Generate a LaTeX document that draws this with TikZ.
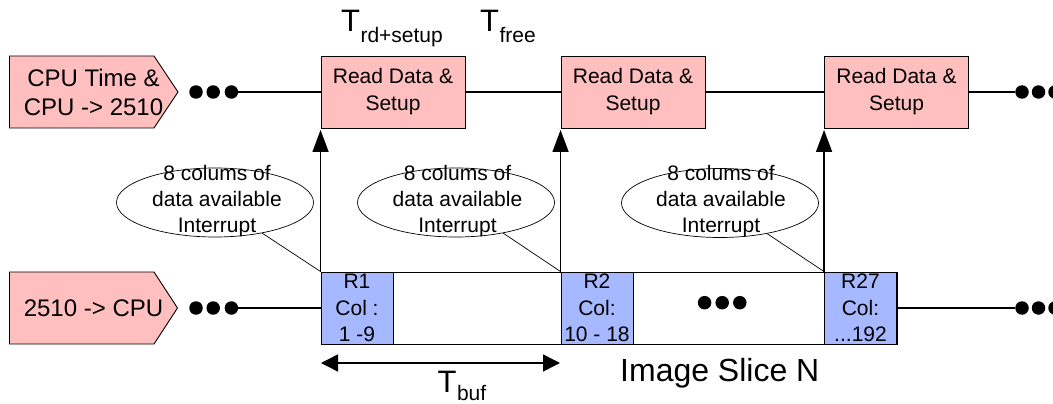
\documentclass[tikz,border=0pt]{standalone}
\usepackage{fontspec}
\setmainfont{Liberation Sans}
\usetikzlibrary{arrows.meta,shapes.geometric}
\definecolor{pinkfill}{RGB}{255,191,191}
\definecolor{bluefill}{RGB}{166,184,255}
\begin{document}
\begin{tikzpicture}[x=1pt,y=-1pt,
  rbox/.style={draw, fill=pinkfill, minimum width=144pt, minimum height=72pt, inner sep=0pt, align=center, font=\fontsize{21}{27}\selectfont, line width=0.9pt},
  colbox/.style={draw, fill=bluefill, minimum width=72pt, minimum height=72pt, inner sep=0pt, align=center, font=\fontsize{21}{26.5}\selectfont, line width=0.9pt},
  slicebox/.style={draw, minimum width=576pt, minimum height=72pt, inner sep=0pt, line width=0.9pt},
  pent/.style={draw, fill=pinkfill, line width=0.9pt},
  penttext/.style={align=center, font=\fontsize{24}{29}\selectfont, inner sep=0pt},
  dot/.style={circle, fill=black, minimum size=13.5pt, inner sep=0pt},
  conn/.style={line width=1.5pt},
  uparrow/.style={line width=1.5pt, -{Triangle[length=22pt, width=16pt]}, shorten >=1.5pt},
  ell/.style={ellipse, draw, minimum width=197pt, minimum height=69pt, inner sep=0pt, line width=0.7pt},
  elltext/.style={align=center, font=\fontsize{21}{26}\selectfont, inner sep=0pt},
  callout/.style={line width=0.7pt},
  bigT/.style={font=\fontsize{31}{31}\selectfont, inner sep=0pt, anchor=base west},
  subT/.style={font=\fontsize{21}{21}\selectfont, inner sep=0pt, anchor=base west},
  dbl/.style={line width=1.5pt, {Triangle[length=17pt, width=17pt]}-{Triangle[length=17pt, width=17pt]}}
]
\useasboundingbox (0,0) rectangle (1053,404);

% top row
\path[pent] (9.5,56) -- (154,56) -- (178,92) -- (154,128) -- (9.5,128) -- cycle;
\node[penttext] (p1) at (93.5,92.5) {CPU Time \&\\CPU -> 2510};
\node[dot] (d1a) at (196,92) {};
\node[dot] (d1b) at (213.2,92) {};
\node[dot] (d1c) at (231.4,92) {};
\node[rbox] (b1) at (393,92) {Read Data \&\\Setup};
\node[rbox] (b2) at (633,92) {Read Data \&\\Setup};
\node[rbox] (b3) at (896.5,92) {Read Data \&\\Setup};
\node[dot] (d2a) at (1022,92) {};
\node[dot] (d2b) at (1038.5,92) {};
\node[dot] (d2c) at (1055,92) {};
\draw[conn] (d1c) -- (b1.west);
\draw[conn] (b1.east) -- (b2.west);
\draw[conn] (b2.east) -- (b3.west);
\draw[conn] (b3.east) -- (d2a);

% time labels
\node[bigT] (trd) at (341,32) {T};
\node[subT] (trdsub) at (trd.base east) [yshift=-11pt] {rd+setup};
\node[bigT] (tfr) at (480,32) {T};
\node[subT] (tfrsub) at (tfr.base east) [yshift=-11pt] {free};

% bottom row
\path[pent] (9.5,272) -- (154,272) -- (177.5,308) -- (154,344) -- (9.5,344) -- cycle;
\node[penttext] (p2) at (93.5,308) {2510 -> CPU};
\node[dot] (d3a) at (196,308) {};
\node[dot] (d3b) at (213.2,308) {};
\node[dot] (d3c) at (231.4,308) {};
\node[slicebox] (slice) at (609,308) {};
\node[colbox] (r1) at (357,308) {R1\\Col :\\1 -9};
\node[colbox] (r2) at (597,308) {R2\\Col:\\10 - 18};
\node[colbox] (r27) at (860.5,308) {R27\\Col:\\...192};
\node[dot] (m1) at (704.6,302.7) {};
\node[dot] (m2) at (722.2,302.7) {};
\node[dot] (m3) at (739.8,302.7) {};
\node[dot] (d4a) at (1022,308) {};
\node[dot] (d4b) at (1038.5,308) {};
\node[dot] (d4c) at (1055,308) {};
\draw[conn] (d3c) -- (r1.west);
\draw[conn] (r27.east) -- (d4a);

% arrows up
\draw[uparrow] (r1.north west) -- (b1.south west);
\draw[uparrow] (r2.north west) -- (b2.south west);
\draw[uparrow] (r27.north west) -- (b3.south west);

% ellipses
\node[ell] (e1) at (215,202.5) {};
\node[elltext] at (217,201) {8 colums of\\data available\\Interrupt};
\node[ell] (e2) at (456,202.5) {};
\node[elltext] at (457.5,201) {8 colums of\\data available\\Interrupt};
\node[ell] (e3) at (720,203) {};
\node[elltext] at (721,201.5) {8 colums of\\data available\\Interrupt};
\draw[callout] (e1.-33) -- (r1.north west);
\draw[callout] (e2.-33) -- (r2.north west);
\draw[callout] (e3.-33) -- (r27.north west);

% T_buf
\coordinate (tbL) at (321,363);
\coordinate (tbR) at (560,363);
\draw[dbl] (tbL) -- (tbR);
\node[bigT] (tbuf) at (437.5,392) {T};
\node[subT] (tbufsub) at (tbuf.base east) [yshift=-8pt] {buf};

\node[font=\fontsize{32}{32}\selectfont, inner sep=0pt, anchor=base west] (slicelabel) at (620,381) {Image Slice N};
\end{tikzpicture}
\end{document}
